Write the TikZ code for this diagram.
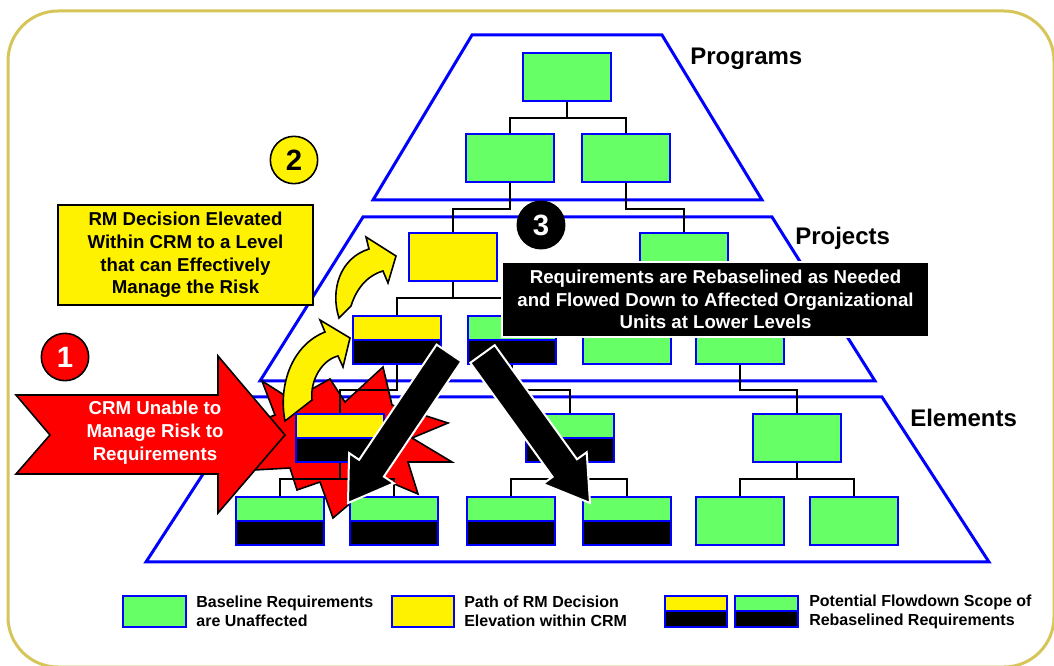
\documentclass[tikz,border=0pt]{standalone}
\usepackage{fontspec}
\setmainfont{Liberation Sans}
\usetikzlibrary{positioning}
\definecolor{boxgreen}{RGB}{102,255,102}
\definecolor{gold}{RGB}{214,197,88}

\begin{document}
\begin{tikzpicture}[x=0.75pt, y=-0.75pt, line join=miter,
  box/.style={draw=blue, line width=1.5pt, fill=boxgreen, minimum width=66pt, minimum height=36pt, inner sep=0pt},
  rebase/.style={path picture={
      \fill[black] (path picture bounding box.west) rectangle (path picture bounding box.south east);
      \draw[blue, line width=1.5pt] (path picture bounding box.west) -- (path picture bounding box.east);}},
  keybox/.style={box, minimum width=47pt, minimum height=23.5pt},
  link/.style={draw=black, line width=1.5pt},
  tier/.style={draw=blue, line width=2.25pt},
  lift/.style={fill=yellow, draw=black, line width=1.2pt},
  flow/.style={fill=black, draw=white, line width=1.5pt},
  note/.style={draw=black, line width=1.2pt, align=center, inner sep=0pt, font=\bfseries\fontsize{14}{17}\selectfont},
  badge/.style={circle, draw=black, line width=1.2pt, minimum size=35.5pt, inner sep=0pt, font=\bfseries\fontsize{22}{22}\selectfont},
  tierlabel/.style={anchor=base west, inner sep=0pt, font=\bfseries\fontsize{18}{20}\selectfont},
  keytext/.style={align=left, inner sep=0pt, font=\bfseries\fontsize{12}{14.25}\selectfont}]

\useasboundingbox (0,0) rectangle (1054,666);
\draw[gold, line width=2.25pt, rounded corners=37.5pt] (8,11) rectangle (1054,667);

\draw[tier] (472,35) -- (662,35) -- (762,200) -- (373,200) -- cycle;
\draw[tier] (363,217) -- (772,217) -- (875,381) -- (260,381) -- cycle;
\draw[tier] (253,397) -- (882,397) -- (989,562) -- (146,562) -- cycle;

\filldraw[fill=red, draw=black, line width=1.2pt] (262,381) -- (292,400) -- (330,379) -- (345,402) -- (383,367) -- (392,405)
  -- (448,423) -- (412,438) -- (452,462) -- (408,462) -- (418,494) -- (380,478) -- (333,518) -- (320,482)
  -- (297,490) -- (290,468) -- (254,470) -- (272,448) -- (235,430) -- (275,415) -- cycle;

\filldraw[lift] (339,318) .. controls (330,290) and (340,258) .. (369,249) -- (366,237) -- (396,256) -- (388,283)
  -- (383,271) .. controls (366,276) and (356,290) .. (351,306) -- cycle;
\filldraw[lift] (285,421) .. controls (278,385) and (292,345) .. (325,332) -- (320,320) -- (350,338) -- (343,367)
  -- (338,356) .. controls (322,360) and (310,380) .. (312,400) -- cycle;

\node[box] (prgTop) at (567,77) {};
\node[box] (prgL) at (510,158.5) {};
\node[box] (prgR) at (626,158.5) {};
\node[box, fill=yellow] (prjA) at (453,257.5) {};
\node[box] (prjB) at (684,257.5) {};
\node[box, fill=yellow, rebase] (prjA1) at (397,340) {};
\node[box, rebase] (prjA2) at (512,340) {};
\node[box] (prjB1) at (627,340) {};
\node[box] (prjB2) at (740,340) {};
\node[box, fill=yellow, rebase] (elmA) at (340,438.5) {};
\node[box, rebase] (elmB) at (570,438.5) {};
\node[box] (elmC) at (797,438.5) {};
\node[box, rebase] (elmA1) at (280,521) {};
\node[box, rebase] (elmA2) at (394,521) {};
\node[box, rebase] (elmB1) at (511,521) {};
\node[box, rebase] (elmB2) at (627,521) {};
\node[box] (elmC1) at (740,521) {};
\node[box] (elmC2) at (854,521) {};

\draw[link] (prgTop.south) -- ++(0,16) -| (prgL.north) (prgTop.south) ++(0,16) -| (prgR.north);
\draw[link] (prgL.south) -- ++(0,26) -| (prjA.north);
\draw[link] (prgR.south) -- ++(0,26) -| (prjB.north);
\draw[link] (prjA.south) -- ++(0,16) -| (prjA1.north) (prjA.south) ++(0,16) -| (prjA2.north);
\draw[link] (prjB.south) -- ++(0,16) -| (prjB1.north) (prjB.south) ++(0,16) -| (prjB2.north);
\draw[link] (prjA1.south) -- ++(0,25) -| (elmA.north);
\draw[link] (prjA2.south) -- ++(0,25) -| (elmB.north);
\draw[link] (prjB2.south) -- ++(0,25) -| (elmC.north);
\draw[link] (elmA.south) -- ++(0,16) -| (elmA1.north) (elmA.south) ++(0,16) -| (elmA2.north);
\draw[link] (elmB.south) -- ++(0,16) -| (elmB1.north) (elmB.south) ++(0,16) -| (elmB2.north);
\draw[link] (elmC.south) -- ++(0,16) -| (elmC1.north) (elmC.south) ++(0,16) -| (elmC2.north);

\filldraw[fill=red, draw=black, line width=1.2pt] (16,395) -- (218,395) -- (218,356) -- (285,435) -- (218,513)
  -- (218,474) -- (16,474) -- (50,435) -- cycle;
\node[white, align=center, font=\bfseries\fontsize{14}{17.25}\selectfont] (crmText) at (155,433) {CRM Unable to\\Manage Risk to\\Requirements};

\filldraw[flow] (436.6,344.6) -- (359.1,459.8) -- (349.1,453.1) -- (348,503) -- (393.9,483.3) -- (383.9,476.6) -- (461.4,361.4) -- cycle;
\filldraw[flow] (470.3,362.8) -- (552.6,476.9) -- (542.9,483.9) -- (590,503) -- (586.7,452.3) -- (577.0,459.3) -- (494.7,345.2) -- cycle;

\node[note, fill=yellow, minimum width=191.6pt, minimum height=75.4pt] (rmNote) at (185.5,255)
  {RM Decision Elevated\\Within CRM to a Level\\that can Effectively\\Manage the Risk};
\node[note, fill=black, draw=white, text=white, minimum width=320.6pt, minimum height=56.6pt] (flowNote) at (715.5,299.5)
  {Requirements are Rebaselined as Needed\\and Flowed Down to Affected Organizational\\Units at Lower Levels};

\node[badge, fill=red, text=white] (stepOne) at (65,357) {1};
\node[badge, fill=yellow] (stepTwo) at (294,160) {2};
\node[badge, fill=black, text=white] (stepThree) at (541,225) {3};

\node[tierlabel] (lblPrograms) at (690,65) {Programs};
\node[tierlabel] (lblProjects) at (795,245) {Projects};
\node[tierlabel] (lblElements) at (910,427) {Elements};

\node[keybox] (keyBase) at (154.5,611.5) {};
\node[keytext, right=7pt of keyBase] (keyBaseText) {Baseline Requirements\\are Unaffected};
\node[keybox, fill=yellow] (keyPath) at (423,611.5) {};
\node[keytext, right=6.5pt of keyPath] (keyPathText) {Path of RM Decision\\Elevation within CRM};
\node[keybox, fill=yellow, rebase] (keyScopeA) at (696,611.5) {};
\node[keybox, rebase, right=4.5pt of keyScopeA] (keyScopeB) {};
\node[keytext, right=7.5pt of keyScopeB] (keyScopeText) {Potential Flowdown Scope of\\Rebaselined Requirements};
\end{tikzpicture}
\end{document}
